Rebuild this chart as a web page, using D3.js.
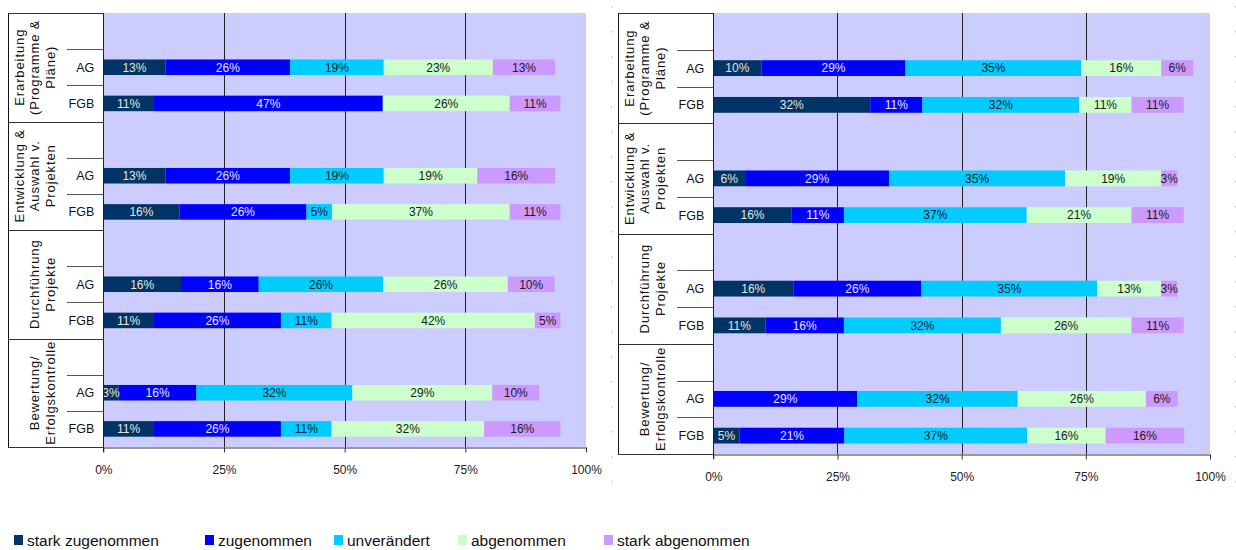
<html>
<head>
  <meta charset="utf-8">
  <title>Veränderungen AG / FGB</title>
  <script src="https://d3js.org/d3.v7.min.js"></script>
  <style>
    body {
      margin: 0;
      background: #fff;
    }
    svg text {
      font-family: Arial, 'Liberation Sans', sans-serif;
    }
  </style>
</head>
<body>
  <svg id="chart" width="1236" height="550"></svg>

  <script type="text/javascript">

    /*--- Data ---*/

    var series = ["stark zugenommen", "zugenommen", "unverändert", "abgenommen", "stark abgenommen"];
    var groups = [
      ["Erarbeitung", "(Programme &", "Pläne)"],
      ["Entwicklung &", "Auswahl v.", "Projekten"],
      ["Durchführung", "Projekte"],
      ["Bewertung/", "Erfolgskontrolle"]
    ];
    var subcats = ["AG", "FGB"];
    var tickValues = [0, 25, 50, 75, 100];

    // left chart, % per group (rows) and series (columns)
    var leftAG = [
      [12.9, 25.8, 19.4, 22.6, 12.9],
      [12.9, 25.8, 19.4, 19.4, 16.1],
      [16.1, 16.1, 25.8, 25.8, 9.7],
      [3.2, 16.1, 32.3, 29.0, 9.7]
    ];
    var leftFGB = [
      [10.5, 47.4, 0, 26.3, 10.5],
      [15.8, 26.3, 5.3, 36.8, 10.5],
      [10.5, 26.3, 10.5, 42.1, 5.3],
      [10.5, 26.3, 10.5, 31.6, 15.8]
    ];

    // right chart
    var rightAG = [
      [9.7, 29.0, 35.4, 16.1, 6.4],
      [6.4, 29.0, 35.4, 19.4, 3.2],
      [16.1, 25.8, 35.4, 12.9, 3.2],
      [0, 29.0, 32.3, 25.8, 6.4]
    ];
    var rightFGB = [
      [31.6, 10.5, 31.6, 10.5, 10.5],
      [15.8, 10.5, 36.8, 21.1, 10.5],
      [10.5, 15.8, 31.6, 26.3, 10.5],
      [5.3, 21.1, 36.8, 15.8, 15.8]
    ];

    /*--- Styles ---*/

    var fills = ["#003366", "#0000ff", "#00ccff", "#ccffcc", "#cc99ff"];
    var textFills = ["#e6e6da", "#e6e6f6", "#10202c", "#1a1a1a", "#1a1a1a"];

    var svg = d3.select("#chart");

    /*--- Draws one chart panel ---*/
    function drawPanel(p, ag, fgb) {
      var g = svg.append("g");

      var x = d3.scaleLinear().domain([0, 100]).range([p.x0, p.x1]);
      var y = d3.scaleBand().domain(d3.range(groups.length)).range([p.y0, p.y1]);
      var ys = d3.scaleBand().domain(["-"].concat(subcats)).range([0, y.bandwidth()]);
      var barH = ys.bandwidth() * 0.43;

      // plot background
      g.append("rect")
        .attr("x", p.x0).attr("y", p.y0)
        .attr("width", p.x1 - p.x0).attr("height", p.y1 - p.y0)
        .attr("fill", "#ccccff");

      // gridlines
      g.selectAll(".grid")
        .data([25, 50, 75])
        .enter().append("line")
        .attr("x1", function (d) { return Math.round(x(d)) + 0.5; })
        .attr("x2", function (d) { return Math.round(x(d)) + 0.5; })
        .attr("y1", p.y0).attr("y2", p.y1)
        .attr("stroke", "#222").attr("stroke-width", 1);

      // rows for the stack
      var rows = [];
      groups.forEach(function (gr, i) {
        subcats.forEach(function (s) {
          var vals = s === "AG" ? ag[i] : fgb[i];
          var r = { group: i, sub: s };
          series.forEach(function (k, j) { r[k] = vals[j]; });
          rows.push(r);
        });
      });

      var stacked = d3.stack().keys(series)(rows);

      function rowY(d) {
        return y(d.data.group) + ys(d.data.sub) + (ys.bandwidth() - barH) / 2;
      }

      var layers = g.selectAll(".layer")
        .data(stacked)
        .enter().append("g")
        .attr("fill", function (d, i) { return fills[i]; });

      layers.selectAll("rect")
        .data(function (d) { return d.filter(function (e) { return e[1] - e[0] > 0; }); })
        .enter().append("rect")
        .attr("x", function (d) { return x(d[0]); })
        .attr("y", rowY)
        .attr("width", function (d) { return x(d[1]) - x(d[0]); })
        .attr("height", barH);

      // value labels
      var clipId = "clip" + p.id;
      g.append("clipPath").attr("id", clipId)
        .append("rect")
        .attr("x", p.x0).attr("y", p.y0)
        .attr("width", p.x1 - p.x0 + 40).attr("height", p.y1 - p.y0);

      var labels = g.append("g").attr("clip-path", "url(#" + clipId + ")");
      stacked.forEach(function (layer, i) {
        labels.selectAll(".lbl" + i)
          .data(layer.filter(function (e) { return e[1] - e[0] > 0; }))
          .enter().append("text")
          .attr("x", function (d) { return x((d[0] + d[1]) / 2); })
          .attr("y", function (d) { return rowY(d) + barH / 2; })
          .attr("dy", "0.36em")
          .attr("text-anchor", "middle")
          .attr("font-size", "12px")
          .attr("fill", textFills[i])
          .text(function (d) { return Math.round(d[1] - d[0]) + "%"; });
      });

      // category label frame
      var frame = g.append("g").attr("stroke", "#333").attr("stroke-width", 1);
      frame.append("line")
        .attr("x1", p.fx + 0.5).attr("x2", p.fx + 0.5)
        .attr("y1", p.y0).attr("y2", p.y1)
        .attr("stroke", "#111");
      var seps = [p.y0].concat(d3.range(1, groups.length).map(function (i) { return y(i); }));
      frame.selectAll(".sep")
        .data(seps)
        .enter().append("line")
        .attr("x1", p.fx).attr("x2", p.x0)
        .attr("y1", function (d) { return Math.round(d) + 0.5; })
        .attr("y2", function (d) { return Math.round(d) + 0.5; });
      frame.append("line")
        .attr("x1", p.fx).attr("x2", p.x0)
        .attr("y1", Math.round(p.y1) + 0.5).attr("y2", Math.round(p.y1) + 0.5);

      groups.forEach(function (gr, i) {
        subcats.forEach(function (s) {
          var yy = Math.round(y(i) + ys(s)) + 0.5;
          frame.append("line")
            .attr("x1", p.sx).attr("x2", p.x0)
            .attr("y1", yy).attr("y2", yy)
            .attr("stroke", "#555");
          g.append("text")
            .attr("x", p.x0 - 9)
            .attr("y", y(i) + ys(s) + ys.bandwidth() / 2)
            .attr("dy", "0.36em")
            .attr("text-anchor", "end")
            .attr("font-size", "12.5px")
            .attr("fill", "#111")
            .text(s);
        });

        // rotated group label, last line next to the AG/FGB column
        var cy = y(i) + y.bandwidth() / 2;
        gr.forEach(function (line, k) {
          var cx = p.fx + 42 - (gr.length - 1 - k) * 15.5;
          g.append("text")
            .attr("transform", "translate(" + cx + "," + cy + ") rotate(-90)")
            .attr("dy", "0.36em")
            .attr("text-anchor", "middle")
            .attr("font-size", "13px")
            .attr("letter-spacing", "0.9px")
            .attr("fill", "#111")
            .text(line);
        });
      });

      // axes
      var xAxis = d3.axisBottom(x)
        .tickValues(tickValues)
        .tickFormat(function (d) { return d + "%"; })
        .tickSize(5)
        .tickSizeOuter(0)
        .tickPadding(12.5);

      var ax = g.append("g")
        .attr("transform", "translate(0," + (Math.round(p.y1) + 0.5) + ")")
        .call(xAxis);
      ax.select(".domain").attr("stroke", "#333");
      ax.selectAll(".tick line").attr("stroke", "#333");
      ax.selectAll(".tick text")
        .attr("font-size", "12px")
        .attr("fill", "#222");

      g.append("line")
        .attr("x1", Math.round(p.x0) + 0.5).attr("x2", Math.round(p.x0) + 0.5)
        .attr("y1", p.y0).attr("y2", p.y1 + 5)
        .attr("stroke", "#222");
    }

    drawPanel({ id: "L", fx: 8, sx: 67, x0: 103.3, x1: 586, y0: 13, y1: 447 }, leftAG, leftFGB);
    drawPanel({ id: "R", fx: 618, sx: 677, x0: 713.3, x1: 1210, y0: 13, y1: 454 }, rightAG, rightFGB);

    // faint dotted object borders
    svg.selectAll(".dots")
      .data([611.5, 1235.5])
      .enter().append("line")
      .attr("x1", function (d) { return d; }).attr("x2", function (d) { return d; })
      .attr("y1", 6).attr("y2", 500)
      .attr("stroke", "#bbb")
      .attr("stroke-dasharray", "1.5,23.5");

    /*--- Legend ---*/

    var legendX = [14, 205, 334, 458, 604];
    var legend = svg.append("g").attr("transform", "translate(0,540)");
    var item = legend.selectAll(".item")
      .data(series)
      .enter().append("g")
      .attr("transform", function (d, i) { return "translate(" + legendX[i] + ",0)"; });
    item.append("rect")
      .attr("x", 0).attr("y", -5)
      .attr("width", 9).attr("height", 10)
      .attr("fill", function (d, i) { return fills[i]; });
    item.append("text")
      .attr("x", 13)
      .attr("dy", "0.36em")
      .attr("font-size", "15.5px")
      .attr("fill", "#111")
      .text(function (d) { return d; });

  </script>
</body>
</html>
